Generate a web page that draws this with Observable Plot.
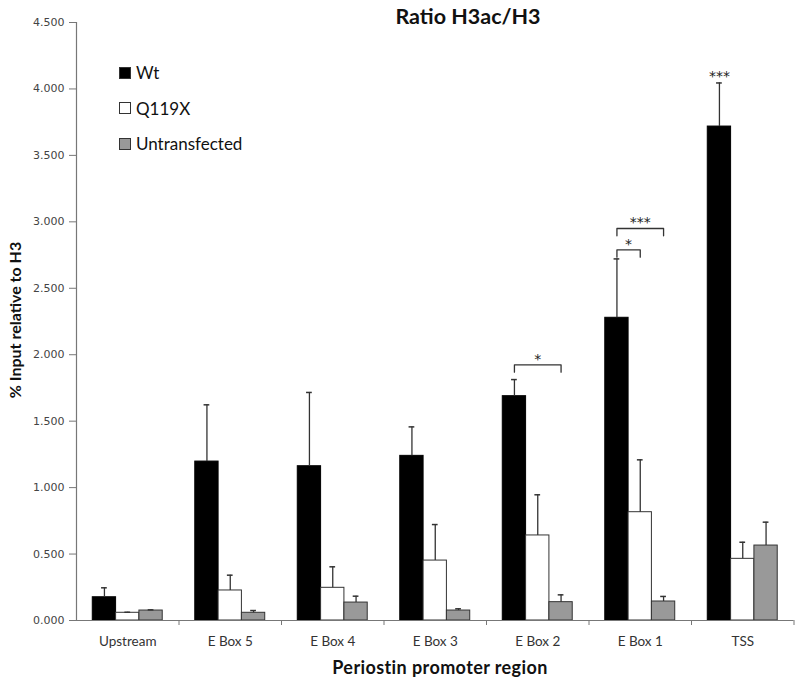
<!DOCTYPE html>
<html>
<head>
<meta charset="utf-8">
<script src="https://cdn.jsdelivr.net/npm/d3@7"></script>
<script src="https://cdn.jsdelivr.net/npm/@observablehq/plot@0.6"></script>
<style>
  html, body { margin: 0; padding: 0; background: #fff; }
  #wrap { position: relative; width: 800px; height: 687px; font-family: Lato, "Open Sans", sans-serif; color: #111; }
  #wrap svg { position: absolute; left: 0; top: 0; }
  .title { position: absolute; left: 468px; top: 16px; transform: translate(-50%, -50%); font-weight: 700; font-size: 21.5px; white-space: nowrap; }
  .ylab { position: absolute; left: 14px; top: 320px; transform: translate(-50%, -50%) rotate(-90deg); font-weight: 700; font-size: 16px; white-space: nowrap; }
  .xlab { position: absolute; left: 440px; top: 667px; transform: translate(-50%, -50%); font-weight: 700; font-size: 18px; letter-spacing: 0.4px; white-space: nowrap; }
  .legend { position: absolute; left: 119px; top: 62px; font-size: 17px; }
  .legend .item { position: absolute; left: 0; white-space: nowrap; display: flex; align-items: center; }
  .legend .sw { width: 10px; height: 10px; border: 1px solid #333; margin-right: 5px; }
</style>
</head>
<body>
<div id="wrap"></div>
<script>
// ---- data ----
const categories = ["Upstream", "E Box 5", "E Box 4", "E Box 3", "E Box 2", "E Box 1", "TSS"];
const series = ["Wt", "Q119X", "Untransfected"];
const seriesColors = ["#000000", "#ffffff", "#999999"];

const wt        = [0.175, 1.196, 1.161, 1.239, 1.688, 2.278, 3.717];
const wtErr     = [0.071, 0.427, 0.555, 0.218, 0.125, 0.443, 0.328];
const q119x     = [0.058, 0.226, 0.246, 0.451, 0.640, 0.815, 0.464];
const q119xErr  = [0.004, 0.115, 0.158, 0.271, 0.306, 0.394, 0.125];
const untr      = [0.075, 0.058, 0.135, 0.075, 0.138, 0.143, 0.564];
const untrErr   = [0.005, 0.017, 0.048, 0.013, 0.055, 0.038, 0.176];

const yTicks = [0, 0.5, 1, 1.5, 2, 2.5, 3, 3.5, 4, 4.5];

// significance annotations
const brackets = [
  {cat: "E Box 2", from: "Wt", to: "Untransfected", y: 1.924, label: "*"},
  {cat: "E Box 1", from: "Wt", to: "Q119X", y: 2.789, label: "*"},
  {cat: "E Box 1", from: "Wt", to: "Untransfected", y: 2.95, label: "***"}
];
const barLabels = [{cat: "TSS", series: "Wt", label: "***"}];

// ---- build table ----
const values = [wt, q119x, untr];
const errs = [wtErr, q119xErr, untrErr];
const rows = categories.flatMap((c, i) => series.map((s, k) => ({
  cat: c, i, k, series: s, value: values[k][i], err: errs[k][i]
})));

const barW = 0.2275;
const start = (1 - 3 * barW) / 2;
const center = (i, k) => i + start + (k + 0.5) * barW;
const ci = c => categories.indexOf(c);
const sk = s => series.indexOf(s);

const bracketPts = brackets.flatMap((b, j) => {
  const xa = center(ci(b.cat), sk(b.from)), xb = center(ci(b.cat), sk(b.to));
  const leg = 0.055;
  return [
    {j, x: xa, y: b.y - leg}, {j, x: xa, y: b.y},
    {j, x: xb, y: b.y}, {j, x: xb, y: b.y - leg}
  ];
});
const bracketText = brackets.map(b => ({
  x: (center(ci(b.cat), sk(b.from)) + center(ci(b.cat), sk(b.to))) / 2,
  y: b.y, label: b.label
}));
const barText = barLabels.map(b => {
  const r = rows.find(d => d.cat === b.cat && d.series === b.series);
  return {x: center(r.i, r.k), y: r.value + r.err, label: b.label};
});

const axisColor = "#777";

const chart = Plot.plot({
  width: 800,
  height: 687,
  marginTop: 22,
  marginBottom: 67,
  marginLeft: 76,
  marginRight: 6.5,
  x: {type: "linear", domain: [0, 7], axis: null},
  y: {type: "linear", domain: [0, 4.5], axis: null},
  color: {domain: series, range: seriesColors},
  style: {fontFamily: "Lato, sans-serif", background: "transparent"},
  marks: [
    // bars
    Plot.rectY(rows, {
      x1: d => d.i + start + d.k * barW,
      x2: d => d.i + start + (d.k + 1) * barW,
      y: "value",
      fill: "series",
      stroke: d => d.k === 0 ? "#000" : "#333",
      strokeWidth: 1
    }),
    // error bars (upper only)
    Plot.ruleX(rows, {x: d => center(d.i, d.k), y1: "value", y2: d => d.value + d.err, stroke: "#333", strokeWidth: 1.3}),
    Plot.ruleY(rows, {y: d => d.value + d.err, x1: d => center(d.i, d.k) - 0.028, x2: d => center(d.i, d.k) + 0.028, stroke: "#333", strokeWidth: 1.5}),
    // significance brackets
    Plot.line(bracketPts, {x: "x", y: "y", z: "j", stroke: "#333", strokeWidth: 1.3}),
    Plot.text(bracketText, {x: "x", y: "y", text: "label", lineAnchor: "middle", dy: -5.5, fontSize: 14, fontFamily: "DejaVu Sans", fill: "#222", style: "letter-spacing:1.5px"}),
    Plot.text(barText, {x: "x", y: "y", text: "label", lineAnchor: "middle", dy: -6, fontSize: 14, fontFamily: "DejaVu Sans", fill: "#222", style: "letter-spacing:1.5px"}),
    // axes lines
    Plot.ruleY([0], {stroke: axisColor, strokeWidth: 1.2}),
    Plot.ruleX([0], {stroke: axisColor, strokeWidth: 1.2}),
    // y axis ticks & labels
    Plot.axisY({ticks: yTicks, tickFormat: d3.format(".3f"), tickSize: 7, tickPadding: 5, stroke: axisColor, fill: "#444", fontSize: 11, fontFamily: "DejaVu Sans", label: null}),
    // x boundary ticks
    Plot.axisX({ticks: d3.range(1, 8), tickSize: 5, tickFormat: () => "", stroke: axisColor, label: null}),
    // x category labels
    Plot.axisX({ticks: categories.map((c, i) => i + 0.5), tickSize: 0, tickPadding: 16, tickFormat: v => categories[Math.floor(v)], fill: "#333", fontSize: 13.5, fontFamily: "Lato", label: null})
  ]
});

const wrap = document.getElementById("wrap");
wrap.appendChild(chart);

const t = document.createElement("div"); t.className = "title"; t.textContent = "Ratio H3ac/H3"; wrap.appendChild(t);
const yl = document.createElement("div"); yl.className = "ylab"; yl.textContent = "% Input relative to H3"; wrap.appendChild(yl);
const xl = document.createElement("div"); xl.className = "xlab"; xl.textContent = "Periostin promoter region"; wrap.appendChild(xl);

const lg = document.createElement("div"); lg.className = "legend";
series.forEach((s, k) => {
  const it = document.createElement("div"); it.className = "item";
  it.style.top = (k * 35.5) + "px";
  const sw = document.createElement("span"); sw.className = "sw"; sw.style.background = seriesColors[k];
  const tx = document.createElement("span"); tx.textContent = s;
  it.appendChild(sw); it.appendChild(tx); lg.appendChild(it);
});
wrap.appendChild(lg);
</script>
</body>
</html>
